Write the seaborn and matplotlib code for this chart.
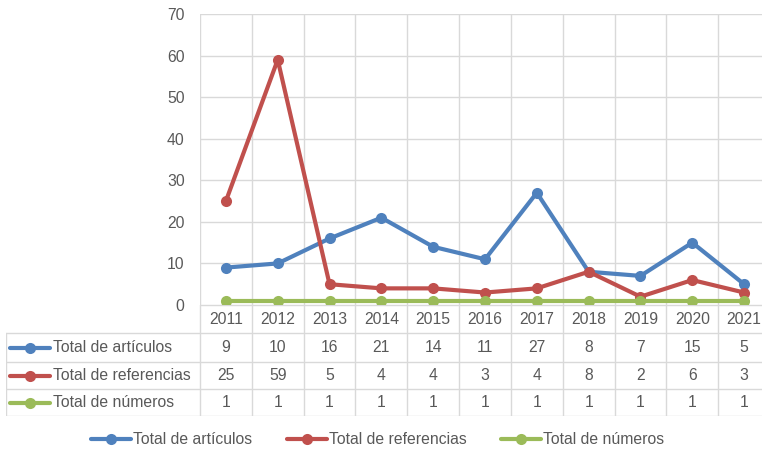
import matplotlib
import matplotlib.pyplot as plt
import pandas as pd
import seaborn as sns

matplotlib.use('agg')

years = ["2011", "2012", "2013", "2014", "2015", "2016", "2017", "2018", "2019", "2020", "2021"]
articulos = [9, 10, 16, 21, 14, 11, 27, 8, 7, 15, 5]
referencias = [25, 59, 5, 4, 4, 3, 4, 8, 2, 6, 3]
numeros = [1, 1, 1, 1, 1, 1, 1, 1, 1, 1, 1]
series_names = ["Total de artículos", "Total de referencias", "Total de números"]
colors = ["#4F81BD", "#C0504D", "#9BBB59"]

W, H = 762, 451
TXT = "#595959"
GRID = "#D9D9D9"
FS = 11.3

sns.set_theme(style="white")
plt.rcParams['font.family'] = ['Liberation Sans', 'DejaVu Sans']

rows = []
for name, vals in zip(series_names, [articulos, referencias, numeros]):
    for i, v in enumerate(vals):
        rows.append({"pos": i, "year": years[i], "value": v, "serie": name})
df = pd.DataFrame(rows)

fig = plt.figure(figsize=(W / 100, H / 100), dpi=100)

# plot area in pixel terms (right edge runs past the image, like the original crop)
left_px, right_px, top_px, bot_px = 200, 770, 14, 305
ax = fig.add_axes([left_px / W, 1 - bot_px / H, (right_px - left_px) / W, (bot_px - top_px) / H])

sns.lineplot(data=df, x="pos", y="value", hue="serie", hue_order=series_names,
             palette=colors, marker="o", markersize=8, markeredgewidth=0,
             linewidth=3, ax=ax, legend=True, zorder=3)

ax.set_xlim(-0.5, 10.5)
ax.set_ylim(0, 70)
ax.set_yticks(range(0, 71, 10))
ax.set_xticks([])
ax.set_xlabel("")
ax.set_ylabel("")
ax.yaxis.grid(True, color=GRID, linewidth=1)
for b in [i - 0.5 for i in range(12)]:
    ax.axvline(b, color=GRID, linewidth=1, zorder=0)
for s in ax.spines.values():
    s.set_visible(False)
ax.tick_params(axis="y", length=0, pad=11, labelsize=FS, labelcolor=TXT)

handles, labels = ax.get_legend_handles_labels()
ax.get_legend().remove()

# data table under the plot
unit = 11 / (right_px - left_px)
tab_left = -0.5 - (left_px - 6) * unit
tax = fig.add_axes([6 / W, 1 - 416 / H, (right_px - 6) / W, (416 - bot_px) / H])
tax.set_xlim(tab_left, 10.5)
tax.set_ylim(416, bot_px)
tax.axis("off")

row_lines = [333, 362, 389, 416]
tax.plot([-0.5, 10.5], [bot_px, bot_px], color=GRID, lw=1)
for y in row_lines:
    tax.plot([tab_left, 10.5], [y, y], color=GRID, lw=1)
tax.plot([tab_left, tab_left], [333, 416], color=GRID, lw=1)
for b in [i - 0.5 for i in range(12)]:
    tax.plot([b, b], [bot_px, 416], color=GRID, lw=1)

for i, yr in enumerate(years):
    tax.text(i, 320, yr, ha="center", va="center", fontsize=FS, color=TXT)

row_centers = [347.5, 375.5, 402.5]
for yc, name, vals, col in zip(row_centers, series_names, [articulos, referencias, numeros], colors):
    kx0 = tab_left + 4 * unit
    kx1 = tab_left + 44 * unit
    tax.plot([kx0, kx1], [yc, yc], color=col, lw=3, solid_capstyle="round")
    tax.plot([(kx0 + kx1) / 2], [yc], marker="o", color=col, markersize=8, markeredgewidth=0)
    tax.text(tab_left + 47 * unit, yc, name, ha="left", va="center", fontsize=FS, color=TXT)
    for i, v in enumerate(vals):
        tax.text(i, yc, str(v), ha="center", va="center", fontsize=FS, color=TXT)

fig.legend(handles, labels, loc="center", bbox_to_anchor=(378 / W, 1 - 440 / H),
           ncol=3, frameon=False, fontsize=FS, labelcolor=TXT, handlelength=2.55,
           handletextpad=0.13, columnspacing=2.2)

fig.savefig("out.png", dpi=100)
